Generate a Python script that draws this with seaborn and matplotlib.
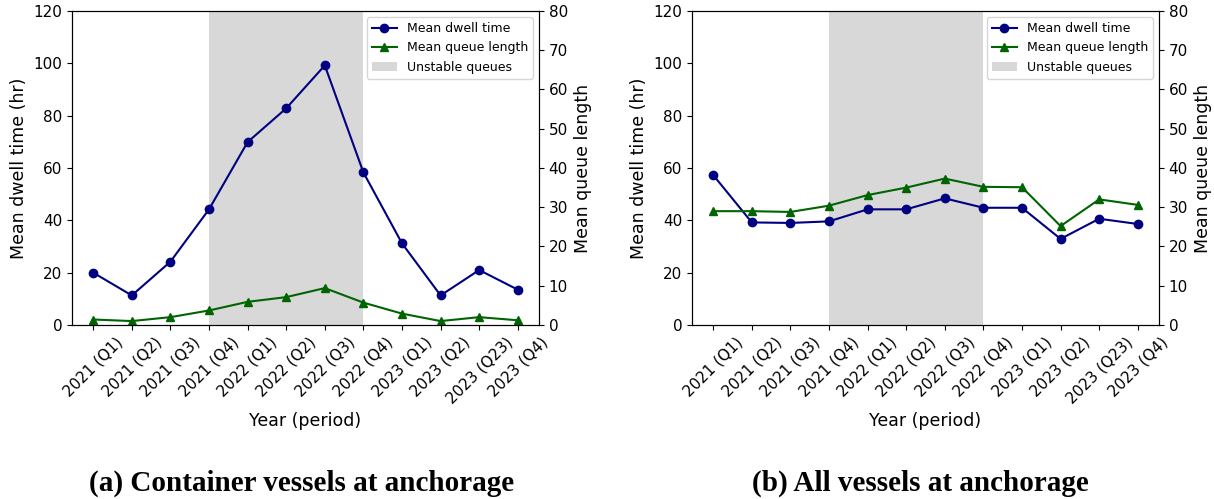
#!/usr/bin/env python3
# coding: utf-8

import numpy as np
import seaborn as sns
import matplotlib.pyplot as plt
from matplotlib.patches import Patch
from matplotlib.lines import Line2D

# ------------------------------------------------
# Data
# ------------------------------------------------
periods = ["2021 (Q1)", "2021 (Q2)", "2021 (Q3)", "2021 (Q4)",
           "2022 (Q1)", "2022 (Q2)", "2022 (Q3)", "2022 (Q4)",
           "2023 (Q1)", "2023 (Q2)", "2023 (Q23)", "2023 (Q4)"]

container_dwell = [20.0, 11.3, 24.2, 44.2, 69.9, 82.8, 99.2, 58.3, 31.2, 11.3, 21.0, 13.5]
container_queue = [1.4, 1.0, 2.0, 3.7, 5.9, 7.1, 9.4, 5.7, 2.9, 1.0, 2.0, 1.2]

all_dwell = [57.3, 39.2, 39.0, 39.6, 44.2, 44.2, 48.4, 44.8, 44.8, 32.9, 40.6, 38.6]
all_queue = [29.0, 29.0, 28.8, 30.4, 33.1, 35.0, 37.3, 35.2, 35.1, 25.2, 32.0, 30.6]

unstable_start = 3
unstable_end = 7

captions = ["(a) Container vessels at anchorage", "(b) All vessels at anchorage"]

DWELL_COLOR = "navy"
QUEUE_COLOR = "darkgreen"
SHADE_COLOR = "gray"


# ------------------------------------------------
# Plot function
# ------------------------------------------------
def plot_panel(ax, dwell, queue):
    x = np.arange(len(periods))
    ax.axvspan(unstable_start, unstable_end, color=SHADE_COLOR, alpha=0.3, lw=0)
    sns.lineplot(x=x, y=dwell, ax=ax, color=DWELL_COLOR, marker="o",
                 markeredgecolor=DWELL_COLOR, markeredgewidth=1, legend=False)
    ax.set_ylim(0, 120)
    ax.set_xticks(x)
    ax.set_xticklabels(periods, rotation=45)
    ax.set_xlabel("Year (period)", fontsize=12.5)
    ax.set_ylabel("Mean dwell time (hr)", fontsize=12.5)
    ax.tick_params(labelsize=11)

    ax2 = ax.twinx()
    sns.lineplot(x=x, y=queue, ax=ax2, color=QUEUE_COLOR, marker="^",
                 markeredgecolor=QUEUE_COLOR, markeredgewidth=1, legend=False)
    ax2.set_ylim(0, 80)
    ax2.set_ylabel("Mean queue length", fontsize=12.5)
    ax2.tick_params(labelsize=11)
    ax.set_xlim(-0.55, len(periods) - 0.45)

    handles = [
        Line2D([], [], color=DWELL_COLOR, marker="o", label="Mean dwell time"),
        Line2D([], [], color=QUEUE_COLOR, marker="^", label="Mean queue length"),
        Patch(facecolor=SHADE_COLOR, alpha=0.3, label="Unstable queues"),
    ]
    ax2.legend(handles=handles, loc="upper right", fontsize=9)


# ------------------------------------------------
# Script
# ------------------------------------------------
fig = plt.figure(figsize=(12.14, 4.99), dpi=100)
ax_a = fig.add_axes([0.0593, 0.3487, 0.3847, 0.6293])
ax_b = fig.add_axes([0.5700, 0.3487, 0.3847, 0.6293])

plot_panel(ax_a, container_dwell, container_queue)
plot_panel(ax_b, all_dwell, all_queue)

fig.text(0.248, 0.017, captions[0], ha="center", va="baseline",
         family="Liberation Serif", weight="bold", fontsize=21)
fig.text(0.758, 0.017, captions[1], ha="center", va="baseline",
         family="Liberation Serif", weight="bold", fontsize=21)

plt.savefig("out.png", dpi=100)
